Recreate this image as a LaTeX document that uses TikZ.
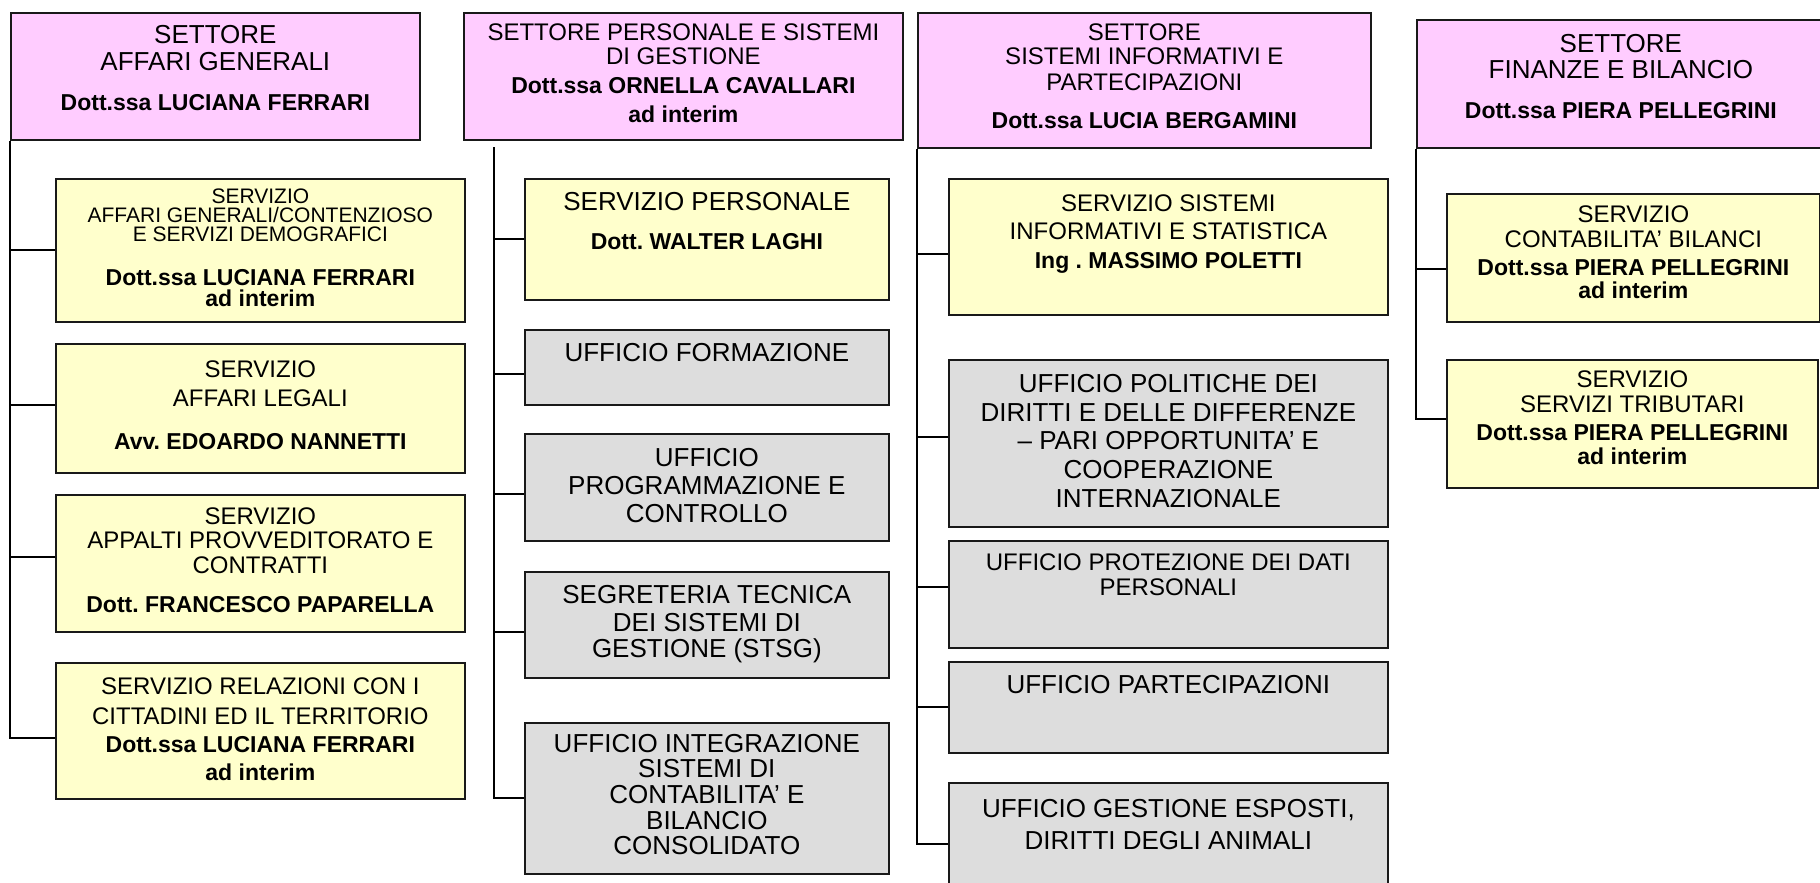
\documentclass[tikz,border=0pt]{standalone}
\usepackage{fontspec}
\setmainfont{Liberation Sans}
\usepackage{tikz}
\definecolor{settpink}{HTML}{FFCCFF}
\definecolor{servyellow}{HTML}{FFFFCC}
\definecolor{uffgray}{HTML}{DDDDDD}
\frenchspacing
% box text: width, height, lines (each line sets its own baseline distance)
\newcommand{\boxcell}[3]{\parbox[t][#2][t]{#1}{\centering\vbox{}#3}}
\newcommand{\rtxt}[3]{{\fontsize{#1}{#2}\selectfont #3\par}}
\newcommand{\btxt}[3]{{\fontsize{#1}{#2}\selectfont\bfseries #3\par}}

\begin{document}
\begin{tikzpicture}[x=1pt,y=-1pt,
    box/.style={draw=black!90, line width=1.7pt, inner sep=0pt, anchor=north west},
    settore/.style={box, fill=settpink},
    servizio/.style={box, fill=servyellow},
    ufficio/.style={box, fill=uffgray},
    link/.style={line width=2pt}]
  \useasboundingbox (0,0) rectangle (1820,883);

  % settore affari generali
  \node[settore] (sag) at (10,12) {\boxcell{409pt}{127pt}{\rtxt{26}{31}{SETTORE}\rtxt{26}{27}{AFFARI GENERALI}\btxt{23}{40}{Dott.ssa LUCIANA FERRARI}}};
  \node[servizio] (agc) at (55,178) {\boxcell{409pt}{143pt}{\rtxt{21}{25}{SERVIZIO}\rtxt{21}{19}{AFFARI GENERALI/CONTENZIOSO}\rtxt{21}{19}{E SERVIZI DEMOGRAFICI}\btxt{23}{44}{Dott.ssa LUCIANA FERRARI}\btxt{23}{21}{ad interim}}};
  \node[servizio] (leg) at (55,343) {\boxcell{409pt}{129pt}{\rtxt{24}{34}{SERVIZIO}\rtxt{24}{29}{AFFARI LEGALI}\btxt{23}{43}{Avv. EDOARDO NANNETTI}}};
  \node[servizio] (app) at (55,494) {\boxcell{409pt}{137pt}{\rtxt{24}{30}{SERVIZIO}\rtxt{24}{24}{APPALTI PROVVEDITORATO E}\rtxt{24}{25}{CONTRATTI}\btxt{23}{39}{Dott. FRANCESCO PAPARELLA}}};
  \node[servizio] (rel) at (55,662) {\boxcell{409pt}{136pt}{\rtxt{24}{32}{SERVIZIO RELAZIONI CON I}\rtxt{24}{30}{CITTADINI ED IL TERRITORIO}\btxt{23}{28}{Dott.ssa LUCIANA FERRARI}\btxt{23}{28}{ad interim}}};

  \draw[link] (sag.south west) |- (agc.west);
  \draw[link] (sag.south west) |- ([yshift=3pt]leg.west);
  \draw[link] (sag.south west) |- ([yshift=6pt]app.west);
  \draw[link] (sag.south west) |- ([yshift=-7pt]rel.west);

  % settore personale
  \node[settore] (spe) at (463,12) {\boxcell{439pt}{127pt}{\rtxt{24}{28}{SETTORE PERSONALE E SISTEMI}\rtxt{24}{24}{DI GESTIONE}\btxt{23}{29}{Dott.ssa ORNELLA CAVALLARI}\btxt{23}{29}{ad interim}}};
  \coordinate (tpe) at (494,147);
  \node[servizio] (per) at (524,178) {\boxcell{364pt}{121pt}{\rtxt{26}{32}{SERVIZIO PERSONALE}\btxt{23}{39}{Dott. WALTER LAGHI}}};
  \node[ufficio] (for) at (524,329) {\boxcell{364pt}{75pt}{\rtxt{26}{32}{UFFICIO FORMAZIONE}}};
  \node[ufficio] (pro) at (524,433) {\boxcell{364pt}{107pt}{\rtxt{26}{33}{UFFICIO}\rtxt{26}{28}{PROGRAMMAZIONE E}\rtxt{26}{28}{CONTROLLO}}};
  \node[ufficio] (seg) at (524,571) {\boxcell{364pt}{106pt}{\rtxt{26}{32}{SEGRETERIA TECNICA}\rtxt{26}{28}{DEI SISTEMI DI}\rtxt{26}{26}{GESTIONE (STSG)}}};
  \node[ufficio] (int) at (524,722) {\boxcell{364pt}{151pt}{\rtxt{26}{30}{UFFICIO INTEGRAZIONE}\rtxt{26}{25}{SISTEMI DI}\rtxt{26}{26}{CONTABILITA’ E}\rtxt{26}{26}{BILANCIO}\rtxt{26}{25}{CONSOLIDATO}}};

  \draw[link] (tpe) |- (per.west);
  \draw[link] (tpe) |- ([yshift=-7pt]for.west);
  \draw[link] (tpe) |- ([yshift=-7pt]pro.west);
  \draw[link] (tpe) |- ([yshift=-7pt]seg.west);
  \draw[link] (tpe) |- (int.west);

  % settore sistemi informativi
  \node[settore] (ssi) at (917,12) {\boxcell{453pt}{135pt}{\rtxt{24}{28}{SETTORE}\rtxt{24}{24}{SISTEMI INFORMATIVI E}\rtxt{24}{26}{PARTECIPAZIONI}\btxt{23}{38}{Dott.ssa LUCIA BERGAMINI}}};
  \node[servizio] (sis) at (948,178) {\boxcell{439pt}{136pt}{\rtxt{24}{33}{SERVIZIO SISTEMI}\rtxt{24}{28}{INFORMATIVI E STATISTICA}\btxt{23}{29}{Ing . MASSIMO POLETTI}}};
  \node[ufficio] (pol) at (948,359) {\boxcell{439pt}{167pt}{\rtxt{26}{33}{UFFICIO POLITICHE DEI}\rtxt{26}{29}{DIRITTI E DELLE DIFFERENZE}\rtxt{26}{28}{-- PARI OPPORTUNITA’ E}\rtxt{26}{29}{COOPERAZIONE}\rtxt{26}{29}{INTERNAZIONALE}}};
  \node[ufficio] (pri) at (948,540) {\boxcell{439pt}{107pt}{\rtxt{24}{30}{UFFICIO PROTEZIONE DEI DATI}\rtxt{24}{25}{PERSONALI}}};
  \node[ufficio] (par) at (948,661) {\boxcell{439pt}{91pt}{\rtxt{26}{32}{UFFICIO PARTECIPAZIONI}}};
  \node[ufficio] (esp) at (948,782) {\boxcell{439pt}{106pt}{\rtxt{26}{35}{UFFICIO GESTIONE ESPOSTI,}\rtxt{26}{32}{DIRITTI DEGLI ANIMALI}}};

  \draw[link] (ssi.south west) |- ([yshift=-7pt]sis.west);
  \draw[link] (ssi.south west) |- ([yshift=6.5pt]pol.west);
  \draw[link] (ssi.south west) |- ([yshift=7.5pt]pri.west);
  \draw[link] (ssi.south west) |- (par.west);
  \draw[link] (ssi.south west) |- ([yshift=-8pt]esp.west);

  % settore finanze
  \node[settore] (sfi) at (1416,19) {\boxcell{408pt}{128pt}{\rtxt{26}{33}{SETTORE}\rtxt{26}{26}{FINANZE E BILANCIO}\btxt{23}{40}{Dott.ssa PIERA PELLEGRINI}}};
  \node[servizio] (con) at (1446,193) {\boxcell{373pt}{128pt}{\rtxt{24}{29}{SERVIZIO}\rtxt{24}{25}{CONTABILITA’ BILANCI}\btxt{23}{28}{Dott.ssa PIERA PELLEGRINI}\btxt{23}{23}{ad interim}}};
  \node[servizio] (tri) at (1446,359) {\boxcell{371pt}{128pt}{\rtxt{24}{28}{SERVIZIO}\rtxt{24}{25}{SERVIZI TRIBUTARI}\btxt{23}{28}{Dott.ssa PIERA PELLEGRINI}\btxt{23}{24}{ad interim}}};

  \draw[link] (sfi.south west) |- ([yshift=-11pt]con.west);
  \draw[link] (sfi.south west) |- ([yshift=5pt]tri.west);
\end{tikzpicture}
\end{document}
